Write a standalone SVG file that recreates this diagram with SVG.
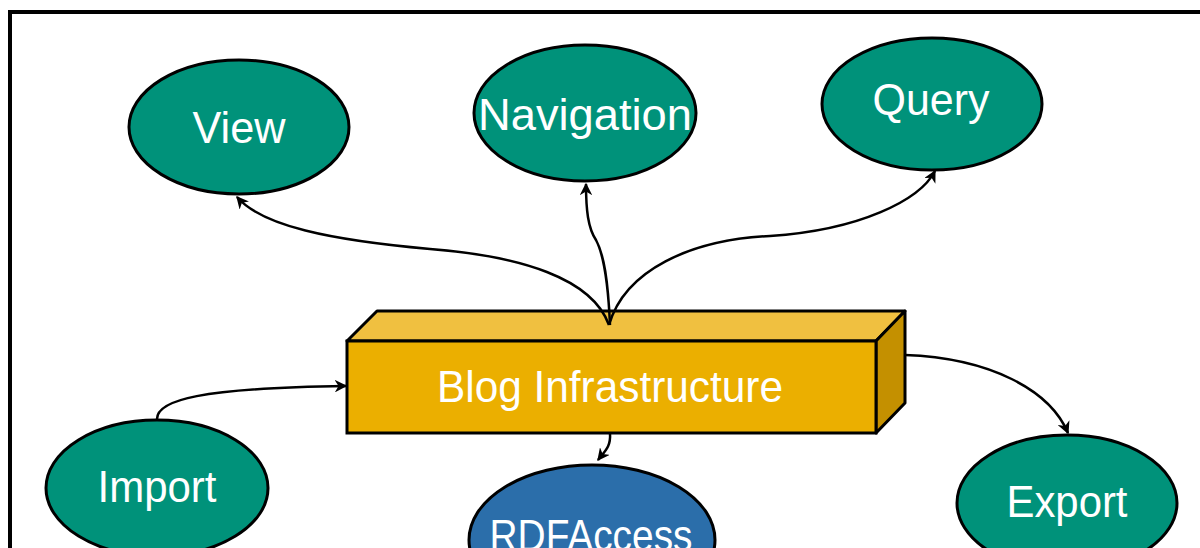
<svg xmlns="http://www.w3.org/2000/svg" width="1200" height="548" viewBox="0 0 1200 548">
<style>
.node{fill:#00927A;stroke:#000;stroke-width:3}
.rdf{fill:#2B6EAA;stroke:#000;stroke-width:3}
.lbl{font-family:"Liberation Sans",Arial,sans-serif;font-size:45px;fill:#fff;text-anchor:middle}
.conn{fill:none;stroke:#000;stroke-width:2.5;marker-end:url(#ah)}
</style>
<defs>
<marker id="ah" viewBox="0 0 10 10" refX="9" refY="5" markerWidth="5" markerHeight="5" orient="auto" markerUnits="strokeWidth">
<path d="M0,0 L10,5 L0,10 L3,5 z" fill="#000"/>
</marker>
</defs>
<rect x="0" y="0" width="1200" height="548" fill="#fff"/>
<rect x="10" y="12" width="1300" height="700" fill="#fff" stroke="#000" stroke-width="4"/>
<g id="blog-infrastructure">
<polygon points="347,341 377,311 905,311 876,341" fill="#F0C040" stroke="#000" stroke-width="3" stroke-linejoin="round"/>
<polygon points="876,341 905,311 905,403 876,433" fill="#C49000" stroke="#000" stroke-width="3" stroke-linejoin="round"/>
<rect x="347" y="341" width="529" height="92" fill="#EBAF00" stroke="#000" stroke-width="3"/>
<text class="lbl" x="610" y="402" textLength="346" lengthAdjust="spacingAndGlyphs">Blog Infrastructure</text>
</g>
<g id="connectors">
<path class="conn" d="M609,325 C592,278 520,256 430,249 C330,240 262,226 237,197"/>
<path class="conn" d="M610,325 C608,280 604,255 596,240 C588,228 586,210 586,184"/>
<path class="conn" d="M609,325 C625,270 690,240 770,236 C860,230 920,200 935,171"/>
<path class="conn" d="M905,355 C990,358 1050,390 1068,433"/>
<path class="conn" d="M157,419 C157,400 200,388 346,386"/>
<path class="conn" d="M610,433 C611,447 605,451 598,460"/>
</g>
<g id="view">
<ellipse class="node" cx="239" cy="127" rx="110" ry="67"/>
<text class="lbl" x="239" y="143" textLength="93" lengthAdjust="spacingAndGlyphs">View</text>
</g>
<g id="navigation">
<ellipse class="node" cx="585" cy="113" rx="111" ry="68"/>
<text class="lbl" x="585" y="130" textLength="214" lengthAdjust="spacingAndGlyphs">Navigation</text>
</g>
<g id="query">
<ellipse class="node" cx="932" cy="104" rx="110" ry="66"/>
<text class="lbl" x="931" y="115" textLength="117" lengthAdjust="spacingAndGlyphs">Query</text>
</g>
<g id="import">
<ellipse class="node" cx="157" cy="488" rx="111" ry="68"/>
<text class="lbl" x="157" y="502" textLength="119" lengthAdjust="spacingAndGlyphs">Import</text>
</g>
<g id="rdfaccess">
<ellipse class="rdf" cx="592" cy="540" rx="123" ry="75"/>
<text class="lbl" x="591" y="551" textLength="203" lengthAdjust="spacingAndGlyphs">RDFAccess</text>
</g>
<g id="export">
<ellipse class="node" cx="1067" cy="503" rx="110" ry="68"/>
<text class="lbl" x="1067" y="517" textLength="121" lengthAdjust="spacingAndGlyphs">Export</text>
</g>
</svg>
